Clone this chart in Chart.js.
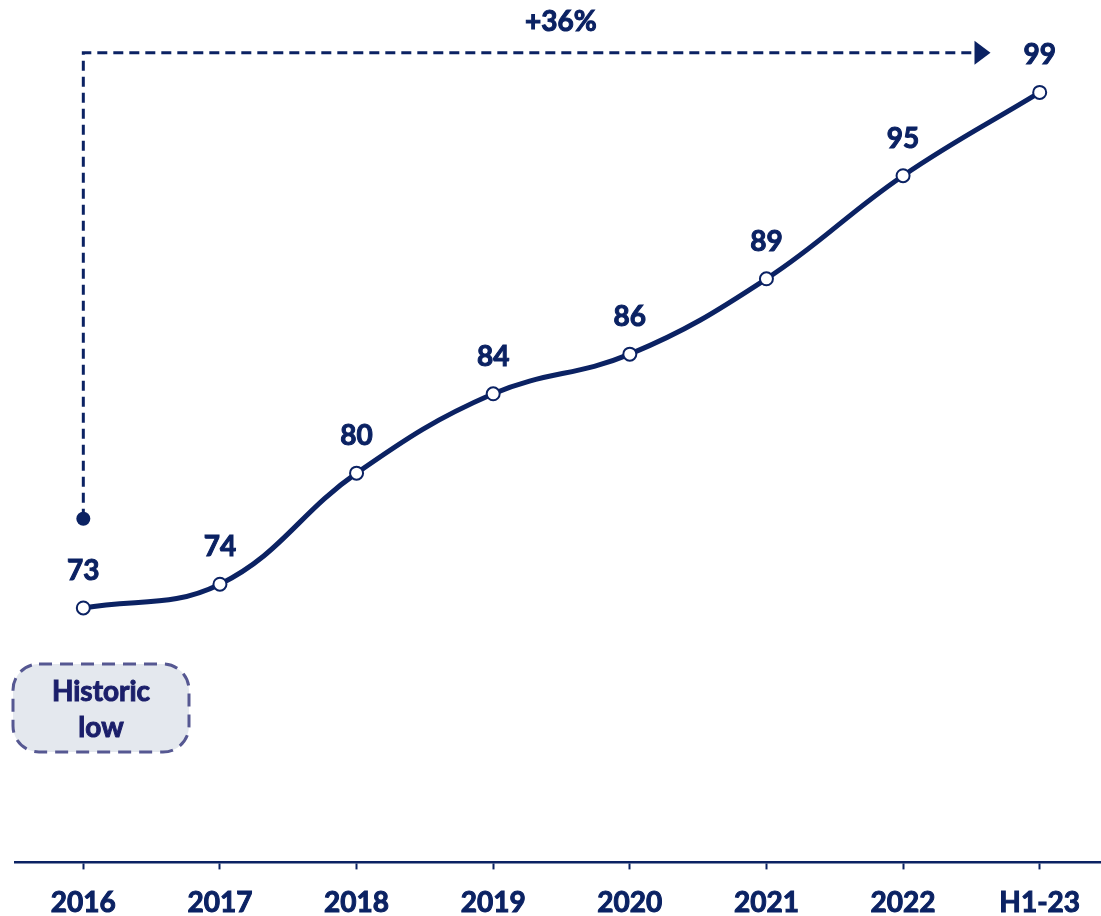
<!DOCTYPE html>
<html>
<head>
<meta charset="utf-8">
<script src="https://cdn.jsdelivr.net/npm/chart.js@4.4.0/dist/chart.umd.min.js"></script>
<style>
    html, body { margin: 0; padding: 0; background: #ffffff; overflow: hidden; }
    canvas { display: block; }
</style>
</head>
<body>
<canvas id="indexChart" width="1108" height="916"></canvas>
<script>
// Données du graphique
const categories = ['2016', '2017', '2018', '2019', '2020', '2021', '2022', 'H1-23'];
const values = [73, 74.2, 79.8, 83.8, 85.8, 89.6, 94.8, 99];
const valueLabels = ['73', '74', '80', '84', '86', '89', '95', '99'];
const growthLabel = '+36%';
const noteLines = ['Historic', 'low'];

const NAVY = '#0b2263';
const FONT = 'Lato, "Open Sans", sans-serif';

// Texte gras avec un léger contour pour épaissir
function boldText(ctx, text, x, y, color) {
    ctx.fillStyle = color;
    ctx.strokeStyle = color;
    ctx.lineWidth = 1;
    ctx.fillText(text, x, y);
    ctx.strokeText(text, x, y);
}

// Étiquettes de valeurs au-dessus des points
const valueLabelPlugin = {
    id: 'valueLabels',
    afterDatasetsDraw(chart) {
        const ctx = chart.ctx;
        const meta = chart.getDatasetMeta(0);
        ctx.save();
        ctx.font = 'bold 28px ' + FONT;
        ctx.textAlign = 'center';
        ctx.textBaseline = 'middle';
        meta.data.forEach(function(pt, i) {
            boldText(ctx, valueLabels[i], pt.x, pt.y - 37, NAVY);
        });
        ctx.restore();
    }
};

// Flèche pointillée +36% et encadré "Historic low"
const annotationPlugin = {
    id: 'annotations',
    afterDraw(chart) {
        const ctx = chart.ctx;
        const x = chart.scales.x;
        const y = chart.scales.y;
        const x0 = x.getPixelForValue(0);
        const dotY = y.getPixelForValue(77.5);
        const topY = y.getPixelForValue(101.0);
        const tipX = x.getPixelForValue(6.64);

        ctx.save();
        // ligne pointillée
        ctx.strokeStyle = NAVY;
        ctx.lineWidth = 3;
        ctx.setLineDash([10, 6]);
        ctx.beginPath();
        ctx.moveTo(x0, dotY);
        ctx.lineTo(x0, topY);
        ctx.lineTo(tipX - 16, topY);
        ctx.stroke();
        ctx.setLineDash([]);
        // pointe de flèche
        ctx.fillStyle = NAVY;
        ctx.beginPath();
        ctx.moveTo(tipX - 16, topY - 12);
        ctx.lineTo(tipX, topY);
        ctx.lineTo(tipX - 16, topY + 12);
        ctx.closePath();
        ctx.fill();
        // point de départ
        ctx.beginPath();
        ctx.arc(x0, dotY, 7, 0, Math.PI * 2);
        ctx.fill();
        // texte +36%
        ctx.font = 'bold 28px ' + FONT;
        ctx.textAlign = 'center';
        ctx.textBaseline = 'middle';
        boldText(ctx, growthLabel, (x0 + tipX) / 2 + 24, 22, NAVY);

        // encadré "Historic low"
        const bx = 13, by = 664, bw = 176, bh = 88, r = 26;
        ctx.beginPath();
        ctx.roundRect(bx, by, bw, bh, r);
        ctx.fillStyle = '#e4e8ee';
        ctx.fill();
        ctx.strokeStyle = '#565892';
        ctx.lineWidth = 3;
        ctx.setLineDash([13, 8]);
        ctx.stroke();
        ctx.setLineDash([]);
        ctx.font = 'bold 28px ' + FONT;
        boldText(ctx, noteLines[0], bx + bw / 2, 692, '#1b1f6a');
        boldText(ctx, noteLines[1], bx + bw / 2, 728, '#1b1f6a');
        ctx.restore();
    }
};

new Chart(document.getElementById('indexChart').getContext('2d'), {
    type: 'line',
    data: {
        labels: categories,
        datasets: [{
            data: values,
            borderColor: NAVY,
            borderWidth: 5,
            tension: 0.4,
            pointRadius: 6.5,
            pointBackgroundColor: '#ffffff',
            pointBorderColor: NAVY,
            pointBorderWidth: 2,
            clip: false
        }]
    },
    options: {
        responsive: false,
        animation: false,
        layout: {
            autoPadding: false,
            padding: { left: 15, right: 0, top: 0, bottom: -21 }
        },
        plugins: {
            legend: { display: false },
            tooltip: { enabled: false }
        },
        scales: {
            x: {
                offset: true,
                grid: {
                    drawOnChartArea: false,
                    drawTicks: true,
                    tickLength: 7,
                    tickWidth: 2,
                    color: NAVY
                },
                border: { color: NAVY, width: 2.5 },
                ticks: {
                    color: NAVY,
                    padding: 17,
                    textStrokeColor: NAVY,
                    textStrokeWidth: 1,
                    font: { family: FONT, size: 28, weight: 'bold' }
                }
            },
            y: {
                display: false,
                min: 60.17,
                max: 103.66
            }
        }
    },
    plugins: [valueLabelPlugin, annotationPlugin]
});
</script>
</body>
</html>
